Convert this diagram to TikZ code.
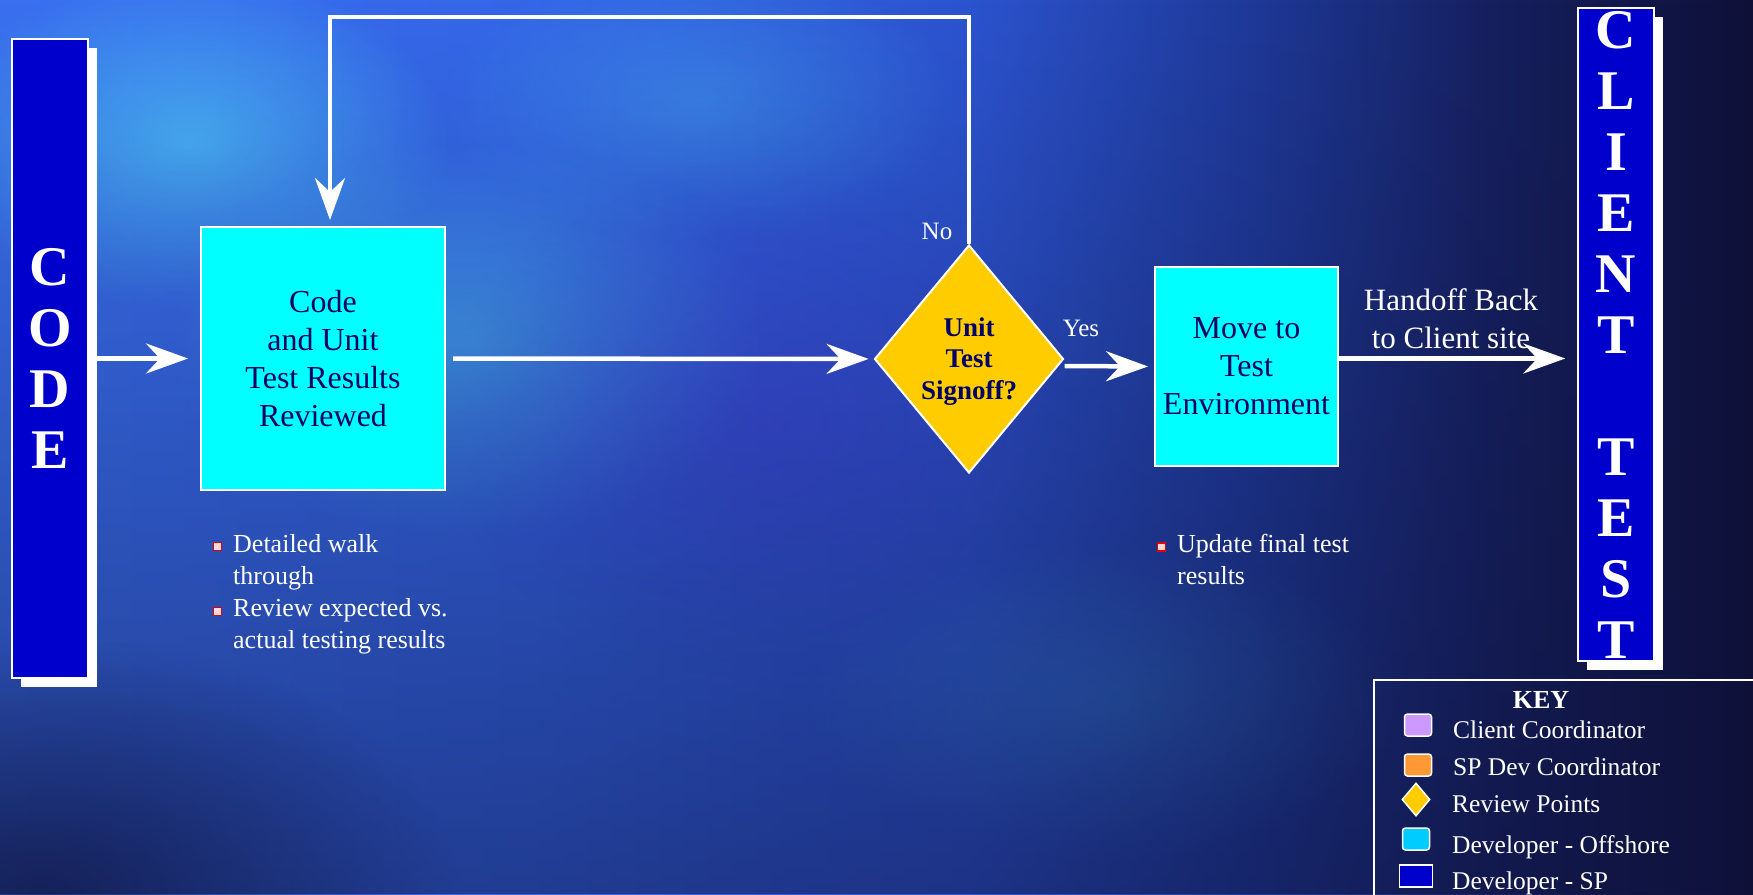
\documentclass[tikz,border=0pt]{standalone}
\usepackage{fontspec}
\setmainfont{Liberation Serif}
\usetikzlibrary{shapes.geometric, arrows.meta, positioning, shadows, fadings}

\definecolor{devsp}{RGB}{0,0,204}
\definecolor{devoff}{RGB}{0,255,255}
\definecolor{keyoff}{RGB}{0,204,255}
\definecolor{review}{RGB}{255,204,0}
\definecolor{clientco}{RGB}{204,153,255}
\definecolor{spco}{RGB}{255,153,51}
\definecolor{navytext}{RGB}{0,0,102}
\definecolor{bulletred}{RGB}{225,0,0}
\definecolor{glowcyan}{RGB}{80,210,255}
\definecolor{glowviolet}{RGB}{70,60,225}
\definecolor{bgdeep}{RGB}{14,18,60}
\definecolor{bgA}{RGB}{58,112,240}
\definecolor{bgB}{RGB}{52,102,232}
\definecolor{bgC}{RGB}{44,84,208}
\definecolor{bgD}{RGB}{30,56,150}
\definecolor{bgE}{RGB}{22,32,95}
\definecolor{bgF}{RGB}{14,16,55}

\pgfdeclarehorizontalshading{skyshade}{100bp}{color(0bp)=(bgA); color(25bp)=(bgA); color(40bp)=(bgB); color(52.5bp)=(bgC); color(61bp)=(bgD); color(67.5bp)=(bgE); color(75bp)=(bgF); color(100bp)=(bgF)}
\tikzfading[name=glow, inner color=transparent!15, outer color=transparent!100]
\tikzfading[name=sinkdown, top color=transparent!100, bottom color=transparent!50]

\begin{document}
\begin{tikzpicture}[x=1pt, y=-1pt,
  box/.style={draw=white, line width=2pt, fill=devoff, text=navytext, align=center, font=\fontsize{32}{38}\selectfont, inner sep=0pt},
  bar/.style={draw=white, line width=1.5pt, fill=devsp, text=white, align=center, font=\fontsize{56}{61}\selectfont\bfseries, minimum width=76pt, inner sep=0pt, drop shadow={fill=white, opacity=1, shadow xshift=9pt, shadow yshift=-9pt}},
  decision/.style={diamond, aspect=0.83, draw=white, line width=2pt, fill=review, text=navytext, align=center, font=\fontsize{27}{31.5}\selectfont\bfseries, inner sep=0pt, minimum width=189pt, minimum height=228pt},
  flow/.style={white, line width=4.5pt, -{Stealth[length=42pt, width=30pt, inset=14pt]}, shorten >=6pt},
  lbl/.style={text=white, font=\fontsize{25}{32}\selectfont},
  note/.style={text=white, align=left, font=\fontsize{26}{32}\selectfont, anchor=base west, inner sep=0pt},
  tick/.style={draw=bulletred, fill=red!15, line width=1.4pt, minimum size=8pt, inner sep=0pt},
  swatch/.style={draw=white, line width=1.5pt, rounded corners=3pt, minimum width=27pt, minimum height=22pt, inner sep=0pt},
  keytext/.style={text=white, font=\fontsize{25.5}{30}\selectfont, anchor=base west, inner sep=0pt}]

\useasboundingbox (0,0) rectangle (1753,894);
\shade[shading=skyshade] (0,0) rectangle (1753,894);
\fill[glowcyan, path fading=glow, fill opacity=0.8] (190,140) ellipse (260pt and 170pt);
\fill[glowcyan, path fading=glow, fill opacity=0.6] (470,340) ellipse (300pt and 200pt);
\fill[glowcyan, path fading=glow, fill opacity=0.35] (700,100) ellipse (260pt and 140pt);
\fill[glowviolet, path fading=glow, fill opacity=0.5] (760,420) ellipse (320pt and 260pt);
\fill[glowcyan, path fading=glow, fill opacity=0.25] (1100,700) ellipse (300pt and 160pt);
\fill[bgdeep, path fading=glow, fill opacity=0.8] (40,894) ellipse (420pt and 260pt);
\fill[bgdeep, path fading=sinkdown] (0,0) rectangle (1753,894);

\node[bar, minimum height=639pt] (code) at (50,358.5) {C\\O\\D\\E};
\node[bar, minimum height=653pt] (client) at (1616,334.5) {C\\L\\I\\E\\N\\T\\[61pt]T\\E\\S\\T};
\node[box, minimum width=244pt, minimum height=263pt] (review) at (323,358.5) {Code\\and Unit\\Test Results\\Reviewed};
\node[decision] (signoff) at (969,359) {\\[-8pt]Unit\\Test\\Signoff?};
\node[box, minimum width=183pt, minimum height=199pt] (move) at (1246.5,366.5) {Move to\\Test\\Environment};

\node[lbl] (no) at (937,231) {No};
\node[lbl] (yes) at (1081,328) {Yes};
\node[lbl, font=\fontsize{31}{38}\selectfont, align=center] (handoff) at (1451,319) {Handoff Back\\to Client site};

\draw[flow, shorten >=12pt] (code) -- (review);
\draw[flow, shorten <=7pt, shorten >=5pt] (review) -- (signoff);
\draw[flow] (signoff.north) -- ++(0,-227) -| ([xshift=7pt]review.north);
\draw[flow] ([yshift=-7pt]signoff.east) -- (move.west);
\draw[flow, shorten >=12pt] (move.east |- review.east) -- (client.west |- review.east);

\node[tick] (walkbox) at (217.5,546.5) {};
\node[note] (walk) at (233,584) {Detailed walk\\through};
\node[tick] (expectbox) at (217.5,611.5) {};
\node[note] (expect) at (233,648) {Review expected vs.\\actual testing results};
\node[tick] (updatebox) at (1161.5,547) {};
\node[note] (update) at (1177,584) {Update final test\\results};

\node[draw=white, line width=2pt, minimum width=420pt, minimum height=260pt, anchor=north west] (keyframe) at (1373,679) {};
\node[text=white, font=\fontsize{26}{30}\selectfont\bfseries] (keytitle) at (1541,700) {KEY};
\node[swatch, fill=clientco] (keyclient) at (1418,725) {};
\node[swatch, fill=spco] (keyspco) at (1418,765) {};
\node[diamond, aspect=0.86, draw=white, line width=1.5pt, fill=review, minimum width=28pt, minimum height=33pt, inner sep=0pt] (keyreview) at (1416,799.5) {};
\node[swatch, fill=keyoff] (keyoffshore) at (1416,839) {};
\node[swatch, fill=devsp, rounded corners=0pt, minimum width=33pt] (keysp) at (1416,876) {};
\node[keytext] (txtclient) at (1453,738) {Client Coordinator};
\node[keytext] (txtspco) at (1453,775) {SP Dev Coordinator};
\node[keytext] (txtreview) at (1452,812) {Review Points};
\node[keytext] (txtoffshore) at (1452,853) {Developer - Offshore};
\node[keytext] (txtsp) at (1452,889) {Developer - SP};
\end{tikzpicture}
\end{document}
